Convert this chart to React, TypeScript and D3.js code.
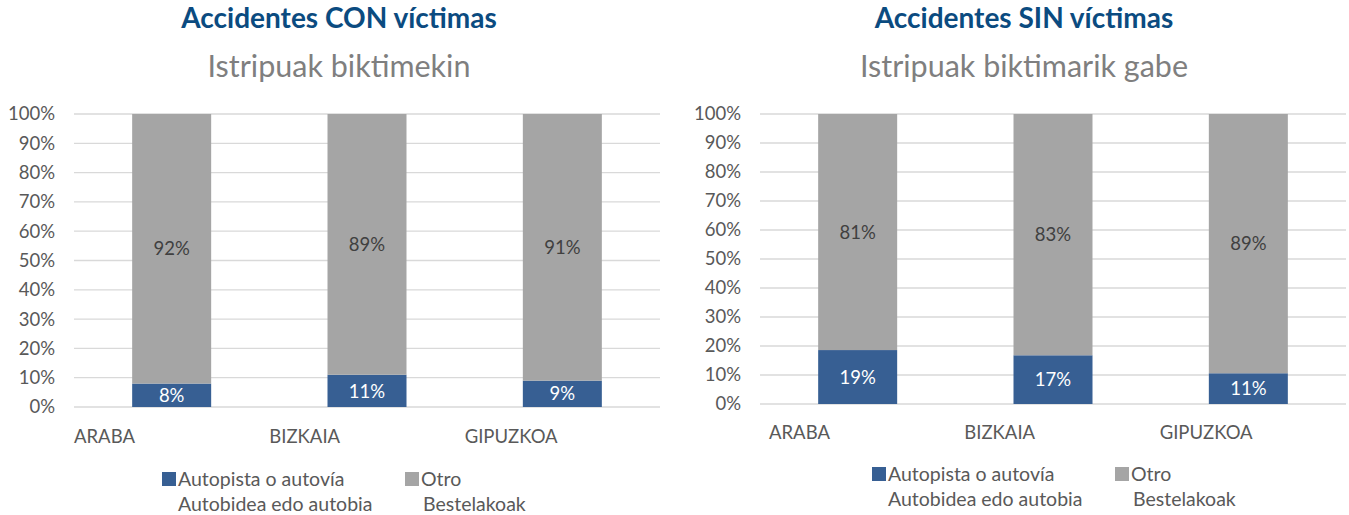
import React from "react";
import * as d3 from "d3";

const categories = ["ARABA", "BIZKAIA", "GIPUZKOA"];
const conAutopista = [8, 11, 9];
const conOtro = [92, 89, 91];
const sinAutopista = [18.6, 16.8, 10.6];
const sinOtro = [81.4, 83.2, 89.4];
const yTicks = [0, 10, 20, 30, 40, 50, 60, 70, 80, 90, 100];
const seriesNames = [
  ["Autopista o autovía", "Autobidea edo autobia"],
  ["Otro", "Bestelakoak"],
];

const BLUE = "#375F93";
const GRAY = "#A5A5A5";
const FONT = "Lato, 'Open Sans', sans-serif";

type PanelProps = {
  title: string;
  subtitle: string;
  a: number[];
  b: number[];
  cx: number;
  x0: number;
  x1: number;
  yTop: number;
  yBottom: number;
  catOffset: number;
  catY: number;
  legendX: number;
  legendY: number;
  legendGap: number;
};

function Panel(p: PanelProps) {
  const x = d3.scaleBand<string>().domain(categories).range([p.x0, p.x1]).paddingInner(0).paddingOuter(0);
  const y = d3.scaleLinear().domain([0, 100]).range([p.yBottom, p.yTop]);
  const barW = 79;
  return (
    <g>
      <text x={p.cx} y={28} textAnchor="middle" fontFamily={FONT} fontWeight={700} fontSize={28} fill="#0B4B80">
        {p.title}
      </text>
      <text x={p.cx} y={77} textAnchor="middle" fontFamily={FONT} fontSize={30.5} fill="#7F7F7F">
        {p.subtitle}
      </text>
      {yTicks.map((t) => (
        <g key={t}>
          <line x1={p.x0} x2={p.x1} y1={y(t)} y2={y(t)} stroke="#D9D9D9" strokeWidth={1.3} />
          <text x={p.x0 - 19} y={y(t)} dy="0.35em" textAnchor="end" fontFamily={FONT} fontSize={18.5} fill="#595959">
            {t}%
          </text>
        </g>
      ))}
      {categories.map((c, i) => {
        const cxb = (x(c) as number) + x.bandwidth() / 2;
        const left = cxb - barW / 2;
        const ya0 = y(0);
        const ya1 = y(p.a[i]);
        const yb1 = y(p.a[i] + p.b[i]);
        return (
          <g key={c}>
            <rect x={left} y={ya1} width={barW} height={ya0 - ya1} fill={BLUE} />
            <rect x={left} y={yb1} width={barW} height={ya1 - yb1} fill={GRAY} />
            <text x={cxb} y={(ya0 + ya1) / 2} dy="0.36em" textAnchor="middle" fontFamily={FONT} fontSize={18.5} fill="#FFFFFF">
              {Math.round(p.a[i])}%
            </text>
            <text x={cxb} y={(ya1 + yb1) / 2} dy="0.36em" textAnchor="middle" fontFamily={FONT} fontSize={18.5} fill="#404040">
              {Math.round(p.b[i])}%
            </text>
            <text x={(x(c) as number) + p.catOffset} y={p.catY} dy="0.35em" fontFamily={FONT} fontSize={18.5} fill="#595959">
              {c}
            </text>
          </g>
        );
      })}
      {seriesNames.map((names, k) => {
        const lx = p.legendX + k * p.legendGap;
        return (
          <g key={k}>
            <rect x={lx} y={p.legendY - 7} width={14} height={14} fill={k === 0 ? BLUE : GRAY} />
            <text x={lx + 16} y={p.legendY} dy="0.35em" fontFamily={FONT} fontSize={19.5} fill="#595959">
              {names[0]}
            </text>
            <text x={lx + 16 + (k === 0 ? 0 : 2)} y={p.legendY + 25} dy="0.35em" fontFamily={FONT} fontSize={19.5} fill="#595959">
              {names[1]}
            </text>
          </g>
        );
      })}
    </g>
  );
}

export default function App() {
  return (
    <svg
      width={1349}
      height={515}
      style={{ position: "absolute", left: 0, top: 0, display: "block", background: "#FFFFFF" }}
    >
      <rect x={0} y={0} width={1349} height={515} fill="#FFFFFF" />
      <Panel
        title="Accidentes CON víctimas"
        subtitle="Istripuak biktimekin"
        a={conAutopista}
        b={conOtro}
        cx={339}
        x0={74}
        x1={660}
        yTop={114}
        yBottom={407}
        catOffset={0}
        catY={437}
        legendX={162}
        legendY={479}
        legendGap={243}
      />
      <Panel
        title="Accidentes SIN víctimas"
        subtitle="Istripuak biktimarik gabe"
        a={sinAutopista}
        b={sinOtro}
        cx={1024}
        x0={760}
        x1={1346}
        yTop={114}
        yBottom={404}
        catOffset={9}
        catY={433}
        legendX={872}
        legendY={474}
        legendGap={243}
      />
    </svg>
  );
}
